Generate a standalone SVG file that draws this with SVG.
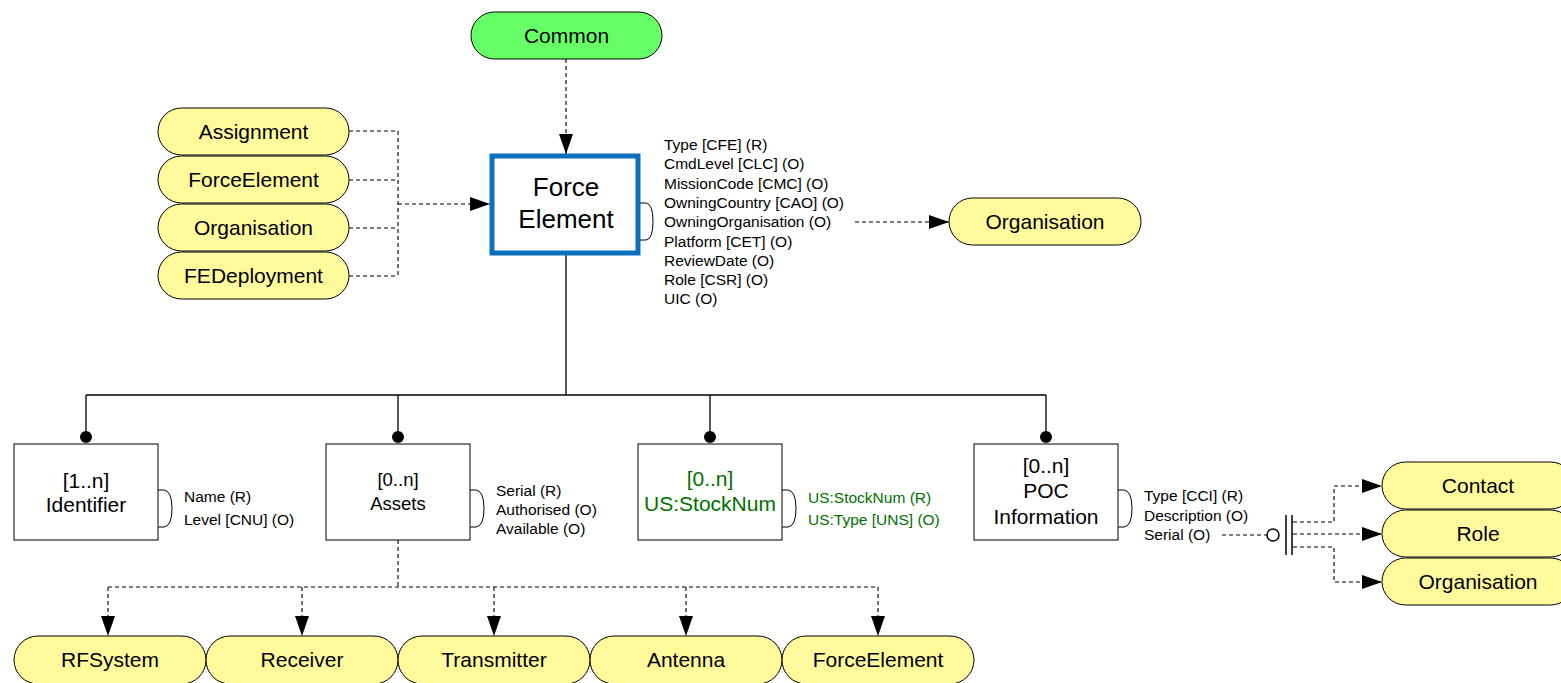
<svg xmlns="http://www.w3.org/2000/svg" width="1561" height="683" viewBox="0 0 1561 683">
<style>
text{font-family:"Liberation Sans",Arial,sans-serif;fill:#000}
.pill{fill:#FFFA9C;stroke:#000;stroke-width:1}
.green{fill:#66FF66;stroke:#000;stroke-width:1}
.pt{font-size:21px;text-anchor:middle}
.box{fill:#fff;stroke:#000;stroke-width:1}
.bt{font-size:21px;text-anchor:middle}
.at{font-size:15.5px}
.gr{fill:#007000}
.dash{fill:none;stroke:#000;stroke-width:1.1;stroke-dasharray:4,3}
.solid{fill:none;stroke:#000;stroke-width:1.3}
.br{fill:none;stroke:#000;stroke-width:1}
</style>
<defs>
<marker id="arr" viewBox="0 0 20 14" refX="20" refY="7" markerWidth="20" markerHeight="14" markerUnits="userSpaceOnUse" orient="auto">
<path d="M0,0 L20,7 L0,14 z" fill="#000"/>
</marker>
</defs>

<g id="connectors">
<path class="dash" d="M566,59 V154" marker-end="url(#arr)"/>
<path class="dash" d="M349,131 H398 M349,180 H398 M349,228 H398 M349,276 H398 M398,131 V276"/>
<path class="dash" d="M398,204 H490" marker-end="url(#arr)"/>
<path class="dash" d="M855,222 H949" marker-end="url(#arr)"/>
<path class="solid" d="M566,255 V395 M86,395 H1046 M86,395 V437 M398,395 V437 M710,395 V437 M1046,395 V437"/>
<circle cx="86" cy="437" r="6" fill="#000"/>
<circle cx="398" cy="437" r="6" fill="#000"/>
<circle cx="710" cy="437" r="6" fill="#000"/>
<circle cx="1046" cy="437" r="6" fill="#000"/>
<path class="dash" d="M398,540 V587 M108,587 H878"/>
<path class="dash" d="M108,587 V636" marker-end="url(#arr)"/>
<path class="dash" d="M302,587 V636" marker-end="url(#arr)"/>
<path class="dash" d="M494,587 V636" marker-end="url(#arr)"/>
<path class="dash" d="M686,587 V636" marker-end="url(#arr)"/>
<path class="dash" d="M878,587 V636" marker-end="url(#arr)"/>
<path class="dash" d="M1222,535 H1267"/>
<circle cx="1273" cy="535" r="6" fill="#fff" stroke="#000" stroke-width="1.5"/>
<path d="M1286,515 V555 M1292,515 V555" stroke="#000" stroke-width="1.5" fill="none"/>
<path class="dash" d="M1293,522 H1334 V486 H1382" marker-end="url(#arr)"/>
<path class="dash" d="M1293,534 H1382" marker-end="url(#arr)"/>
<path class="dash" d="M1293,547 H1334 V582 H1382" marker-end="url(#arr)"/>
</g>

<g id="common"><rect class="green" x="471" y="12" width="191" height="47" rx="23.5"/><text class="pt" x="566.5" y="43">Common</text></g>

<g id="assignment"><rect class="pill" x="158" y="108" width="191" height="47" rx="23.5"/><text class="pt" x="253.5" y="139">Assignment</text></g>
<g id="forceelement-left"><rect class="pill" x="158" y="156" width="191" height="47" rx="23.5"/><text class="pt" x="253.5" y="187">ForceElement</text></g>
<g id="organisation-left"><rect class="pill" x="158" y="204" width="191" height="47" rx="23.5"/><text class="pt" x="253.5" y="235">Organisation</text></g>
<g id="fedeployment"><rect class="pill" x="158" y="252" width="191" height="47" rx="23.5"/><text class="pt" x="253.5" y="283">FEDeployment</text></g>

<g id="force-element">
<rect x="492" y="156" width="146" height="97" fill="#fff" stroke="#0A6FBF" stroke-width="5"/>
<text x="566" y="196" style="font-size:26px;text-anchor:middle">Force</text>
<text x="566" y="228" style="font-size:26px;text-anchor:middle">Element</text>
<path class="br" d="M640,203 H646 Q653,204 653,221.5 Q653,239 646,240 H640"/>
<text class="at" x="664" y="150">Type [CFE] (R)</text>
<text class="at" x="664" y="169.3">CmdLevel [CLC] (O)</text>
<text class="at" x="664" y="188.6">MissionCode [CMC] (O)</text>
<text class="at" x="664" y="207.9">OwningCountry [CAO] (O)</text>
<text class="at" x="664" y="227.2">OwningOrganisation (O)</text>
<text class="at" x="664" y="246.5">Platform [CET] (O)</text>
<text class="at" x="664" y="265.8">ReviewDate (O)</text>
<text class="at" x="664" y="285.1">Role [CSR] (O)</text>
<text class="at" x="664" y="304.4">UIC (O)</text>
</g>

<g id="organisation-right"><rect class="pill" x="949" y="198" width="192" height="47" rx="23.5"/><text class="pt" x="1045" y="229">Organisation</text></g>

<g id="identifier">
<rect class="box" x="14" y="444" width="144" height="96"/>
<text class="bt" x="86" y="488">[1..n]</text>
<text class="bt" x="86" y="512">Identifier</text>
<path class="br" d="M158,490 H164 Q172,491 172,508.5 Q172,526 164,527 H158"/>
<text class="at" x="184" y="502">Name (R)</text>
<text class="at" x="184" y="525">Level [CNU] (O)</text>
</g>

<g id="assets">
<rect class="box" x="326" y="444" width="144" height="96"/>
<text x="398" y="486" style="font-size:18.5px;text-anchor:middle">[0..n]</text>
<text x="398" y="510" style="font-size:18.5px;text-anchor:middle">Assets</text>
<path class="br" d="M470,490 H476 Q484,491 484,508.5 Q484,526 476,527 H470"/>
<text class="at" x="496" y="496">Serial (R)</text>
<text class="at" x="496" y="515">Authorised (O)</text>
<text class="at" x="496" y="534">Available (O)</text>
</g>

<g id="usstocknum">
<rect class="box" x="638" y="444" width="144" height="96"/>
<text class="bt gr" x="710" y="486">[0..n]</text>
<text class="bt gr" x="710" y="511">US:StockNum</text>
<path class="br" d="M782,490 H788 Q796,491 796,508.5 Q796,526 788,527 H782"/>
<text class="at gr" x="808" y="503">US:StockNum (R)</text>
<text class="at gr" x="808" y="525">US:Type [UNS] (O)</text>
</g>

<g id="poc">
<rect class="box" x="974" y="444" width="144" height="96"/>
<text class="bt" x="1046" y="473">[0..n]</text>
<text class="bt" x="1046" y="498">POC</text>
<text class="bt" x="1046" y="524">Information</text>
<path class="br" d="M1118,490 H1124 Q1132,491 1132,508.5 Q1132,526 1124,527 H1118"/>
<text class="at" x="1144" y="501">Type [CCI] (R)</text>
<text class="at" x="1144" y="521">Description (O)</text>
<text class="at" x="1144" y="540">Serial (O)</text>
</g>

<g id="contact"><rect class="pill" x="1382" y="462" width="192" height="47" rx="23.5"/><text class="pt" x="1478" y="493">Contact</text></g>
<g id="role"><rect class="pill" x="1382" y="510" width="192" height="47" rx="23.5"/><text class="pt" x="1478" y="541">Role</text></g>
<g id="organisation-poc"><rect class="pill" x="1382" y="558" width="192" height="47" rx="23.5"/><text class="pt" x="1478" y="589">Organisation</text></g>

<g id="rfsystem"><rect class="pill" x="14" y="636" width="192" height="48" rx="24"/><text class="pt" x="110" y="667">RFSystem</text></g>
<g id="receiver"><rect class="pill" x="206" y="636" width="192" height="48" rx="24"/><text class="pt" x="302" y="667">Receiver</text></g>
<g id="transmitter"><rect class="pill" x="398" y="636" width="192" height="48" rx="24"/><text class="pt" x="494" y="667">Transmitter</text></g>
<g id="antenna"><rect class="pill" x="590" y="636" width="192" height="48" rx="24"/><text class="pt" x="686" y="667">Antenna</text></g>
<g id="forceelement-bottom"><rect class="pill" x="782" y="636" width="192" height="48" rx="24"/><text class="pt" x="878" y="667">ForceElement</text></g>
</svg>
